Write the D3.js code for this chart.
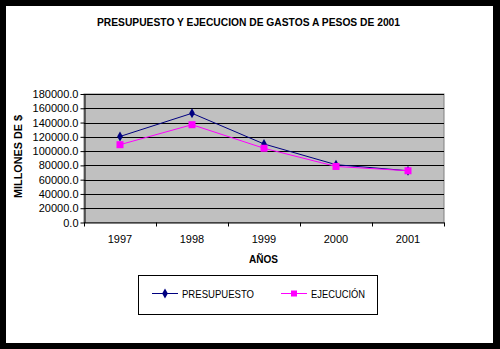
<!DOCTYPE html>
<html><head><meta charset="utf-8">
<script src="https://cdn.jsdelivr.net/npm/d3@7"></script>
<style>body{margin:0;background:#000}svg{display:block}text{font-family:"Liberation Sans",Arial,sans-serif}</style>
</head><body>
<svg id="c" width="500" height="349"></svg>
<script>
const years = ["1997","1998","1999","2000","2001"];
const presupuesto = [120500, 153000, 110000, 81000, 72500];
const ejecucion = [109000, 137000, 104000, 78500, 72500];
const yTicks = [0,20000,40000,60000,80000,100000,120000,140000,160000,180000];
const seriesNames = ["PRESUPUESTO","EJECUCIÓN"];

const svg = d3.select("#c");
svg.append("rect").attr("x",0).attr("y",0).attr("width",500).attr("height",349).attr("fill","#000");
svg.append("rect").attr("x",6).attr("y",6).attr("width",487).attr("height",337).attr("fill","#fff");

const L=84, R=444, T=94, B=222.5;
const x = d3.scaleBand().domain(years).range([L,R]);
const y = d3.scaleLinear().domain([0,180000]).range([B,T]);

svg.append("rect").attr("x",L).attr("y",T).attr("width",R-L).attr("height",B-T)
  .attr("fill","#c0c0c0").attr("stroke","#808080").attr("stroke-width",1);

svg.append("g").selectAll("line").data(yTicks.slice(1)).join("line")
  .attr("x1",L).attr("x2",R).attr("y1",d=>Math.round(y(d))+0.5).attr("y2",d=>Math.round(y(d))+0.5)
  .attr("stroke","#000").attr("stroke-width",1);

const yAxis = svg.append("g").attr("transform",`translate(${L+0.5},0)`)
  .call(d3.axisLeft(y).tickValues(yTicks).tickFormat(d=>d3.format(".1f")(d)).tickSize(4).tickSizeOuter(0));
yAxis.selectAll("text").attr("font-size","11px").attr("fill","#000").attr("x",-6);
yAxis.select(".domain").attr("stroke","#000");
yAxis.selectAll(".tick line").attr("stroke","#000");

const xAxis = svg.append("g").attr("transform",`translate(0,${B})`);
xAxis.append("line").attr("x1",L).attr("x2",R+0.5).attr("y1",0.5).attr("y2",0.5).attr("stroke","#000");
xAxis.selectAll("line.t").data(d3.range(years.length+1)).join("line").attr("class","t")
  .attr("x1",i=>L+i*x.step()+0.5).attr("x2",i=>L+i*x.step()+0.5).attr("y1",0).attr("y2",4).attr("stroke","#000");
xAxis.selectAll("text").data(years).join("text")
  .attr("x",d=>x(d)+x.bandwidth()/2).attr("y",20).attr("text-anchor","middle")
  .attr("font-size","11px").text(d=>d);

const cx = d=>x(d)+x.bandwidth()/2;
const line = d3.line().x((d,i)=>cx(years[i])).y(d=>y(d));
svg.append("path").datum(presupuesto).attr("d",line).attr("fill","none").attr("stroke","#000080").attr("stroke-width",1);
svg.append("path").datum(ejecucion).attr("d",line).attr("fill","none").attr("stroke","#ff00ff").attr("stroke-width",1);

const diamond = d3.symbol().type(d3.symbolDiamond).size(28);
svg.append("g").selectAll("path").data(presupuesto).join("path")
  .attr("transform",(d,i)=>`translate(${cx(years[i])},${y(d)})`).attr("d",diamond).attr("fill","#000080");
svg.append("g").selectAll("rect").data(ejecucion).join("rect")
  .attr("x",(d,i)=>cx(years[i])-3.5).attr("y",d=>y(d)-3.5).attr("width",7).attr("height",7).attr("fill","#ff00ff");

svg.append("text").attr("x",248.5).attr("y",26).attr("text-anchor","middle")
  .attr("font-size","11px").attr("font-weight","bold")
  .attr("textLength",303).attr("lengthAdjust","spacingAndGlyphs")
  .text("PRESUPUESTO Y EJECUCION DE GASTOS A PESOS DE 2001");
svg.append("text").attr("transform","translate(22,156.5) rotate(-90)").attr("text-anchor","middle")
  .attr("font-size","11px").attr("font-weight","bold")
  .attr("textLength",83).attr("lengthAdjust","spacingAndGlyphs").text("MILLONES DE $");
svg.append("text").attr("x",263.5).attr("y",263).attr("text-anchor","middle")
  .attr("font-size","11px").attr("font-weight","bold")
  .attr("textLength",29).attr("lengthAdjust","spacingAndGlyphs").text("AÑOS");

const lg = svg.append("g");
lg.append("rect").attr("x",138.5).attr("y",275.5).attr("width",239).attr("height",39).attr("fill","#fff").attr("stroke","#000");
const items = [{x:152,color:"#000080",shape:"d",w:72},{x:281,color:"#ff00ff",shape:"s",w:54}];
items.forEach((it,i)=>{
  lg.append("line").attr("x1",it.x).attr("x2",it.x+26).attr("y1",293.5).attr("y2",293.5).attr("stroke",it.color);
  if(it.shape==="d") lg.append("path").attr("transform",`translate(${it.x+13},293.5)`).attr("d",diamond).attr("fill",it.color);
  else lg.append("rect").attr("x",it.x+10).attr("y",290.5).attr("width",6).attr("height",6).attr("fill",it.color);
  lg.append("text").attr("x",it.x+30).attr("y",297.5).attr("font-size","11px")
    .attr("textLength",it.w).attr("lengthAdjust","spacingAndGlyphs").text(seriesNames[i]);
});
</script>
</body></html>
